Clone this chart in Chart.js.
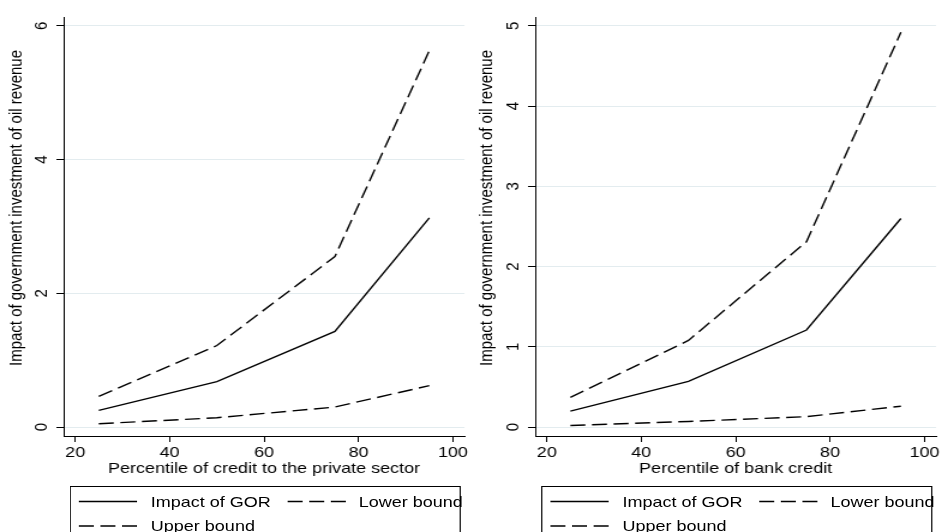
<!DOCTYPE html>
<html>
<head>
<meta charset="utf-8">
<script src="https://cdn.jsdelivr.net/npm/chart.js@4"></script>
<style>
  html, body { margin: 0; padding: 0; background: #fff; overflow: hidden; }
  body { width: 942px; height: 532px; position: relative; }
  /* the reference is a Stata graph stretched sideways, so everything is drawn at 785px and widened */
  #wrap { position: absolute; left: 0; top: 0; width: 785px; height: 532px; transform: scaleX(1.2); transform-origin: 0 0; }
  canvas { position: absolute; top: 0; }
  .legend { position: absolute; top: 486px; width: 326px; height: 70px; border: 1px solid #000; box-sizing: border-box; }
  .legend svg { position: absolute; left: 0; top: 0; }
  .legend span { position: absolute; font: 15px "Liberation Sans", Arial, sans-serif; color: #000; line-height: 18px; white-space: nowrap; }
</style>
</head>
<body>
<div id="wrap">
  <canvas id="chart-private" width="392" height="532" style="left:0"></canvas>
  <canvas id="chart-bank" width="393" height="532" style="left:392px"></canvas>
  <div class="legend" id="legend-private" style="left:58px"></div>
  <div class="legend" id="legend-bank" style="left:451px"></div>
</div>
<script>
document.addEventListener('DOMContentLoaded', () => {
    // --- Datos ---
    const percentiles = [25, 50, 75, 95];
    const xTicks = [20, 40, 60, 80, 100];

    const impactPrivate = [0.25, 0.68, 1.43, 3.13];
    const lowerPrivate = [0.05, 0.14, 0.30, 0.62];
    const upperPrivate = [0.46, 1.22, 2.55, 5.63];
    const yTicksPrivate = [0, 2, 4, 6];

    const impactBank = [0.20, 0.57, 1.21, 2.60];
    const lowerBank = [0.02, 0.07, 0.13, 0.26];
    const upperBank = [0.37, 1.08, 2.31, 4.92];
    const yTicksBank = [0, 1, 2, 3, 4, 5];

    const legendLabels = ['Impact of GOR', 'Lower bound', 'Upper bound'];
    const yTitle = 'Impact of government investment of oil revenue';

    const FONT = '"Liberation Sans", Arial, sans-serif';
    const DASH = [12.5, 5.5];

    const toPoints = (ys) => ys.map((y, i) => ({ x: percentiles[i], y: y }));

    // titulo del eje y, algo por encima del centro como en Stata
    const yTitlePlugin = {
        id: 'yTitle',
        afterDraw(chart) {
            const ctx = chart.ctx;
            ctx.save();
            ctx.font = '15px ' + FONT;
            ctx.fillStyle = '#000';
            ctx.textAlign = 'center';
            ctx.textBaseline = 'middle';
            ctx.translate(14.2, 208);
            ctx.rotate(-Math.PI / 2);
            ctx.fillText(yTitle, 0, 0);
            ctx.restore();
        }
    };

    function makeChart(canvasId, series, yTicks, yMin, yMax, xTitle, yWidth, padRight) {
        const [impact, lower, upper] = series;
        const line = (label, data, dash) => ({
            label: label,
            data: toPoints(data),
            borderColor: '#000',
            borderWidth: 1.4,
            borderDash: dash,
            pointRadius: 0,
            fill: false,
            tension: 0
        });

        return new Chart(document.getElementById(canvasId), {
            type: 'line',
            data: {
                datasets: [
                    line(legendLabels[0], impact, []),
                    line(legendLabels[1], lower, DASH),
                    line(legendLabels[2], upper, DASH)
                ]
            },
            options: {
                responsive: false,
                animation: false,
                layout: { padding: { top: 13, right: padRight, bottom: 0, left: 0 } },
                scales: {
                    x: {
                        type: 'linear',
                        min: 17.55,
                        max: 102.45,
                        afterBuildTicks: (scale) => { scale.ticks = xTicks.map(v => ({ value: v })); },
                        afterFit: (scale) => { scale.height = 96; },
                        grid: { drawOnChartArea: false, tickColor: '#000', tickLength: 6, tickWidth: 1 },
                        border: { color: '#000', width: 1 },
                        ticks: { color: '#000', padding: 2, maxRotation: 0, font: { family: FONT, size: 15 } },
                        title: {
                            display: true,
                            text: xTitle,
                            color: '#000',
                            font: { family: FONT, size: 15 },
                            padding: { top: 0, bottom: 54 }
                        }
                    },
                    y: {
                        min: yMin,
                        max: yMax,
                        afterBuildTicks: (scale) => { scale.ticks = yTicks.map(v => ({ value: v })); },
                        afterFit: (scale) => { scale.width = yWidth; },
                        grid: { color: '#e3ecef', lineWidth: 1, tickColor: '#000', tickLength: 6 },
                        border: { color: '#000', width: 1 },
                        ticks: {
                            color: '#000',
                            minRotation: 90,
                            maxRotation: 90,
                            crossAlign: 'center',
                            padding: 8,
                            font: { family: FONT, size: 15 }
                        }
                    }
                },
                plugins: {
                    legend: { display: false },
                    tooltip: { enabled: false }
                }
            },
            plugins: [yTitlePlugin]
        });
    }

    // --- Leyenda (caja de Stata, dos columnas) ---
    function buildLegend(el) {
        const rows = [
            { label: legendLabels[0], dash: '', sx: 6.7, tx: 66.7, y: 14.5 },
            { label: legendLabels[1], dash: DASH.join(' '), sx: 180.7, tx: 240, y: 14.5 },
            { label: legendLabels[2], dash: DASH.join(' '), sx: 6.7, tx: 66.7, y: 39 }
        ];
        let svg = '<svg width="326" height="70" xmlns="http://www.w3.org/2000/svg">';
        rows.forEach(r => {
            svg += `<line x1="${r.sx}" y1="${r.y}" x2="${r.sx + 48.5}" y2="${r.y}" stroke="#000" stroke-width="1.4"` +
                (r.dash ? ` stroke-dasharray="${r.dash}"` : '') + '/>';
        });
        svg += '</svg>';
        el.innerHTML = svg + rows.map(r =>
            `<span style="left:${r.tx}px;top:${r.y - 9}px">${r.label}</span>`).join('');
    }

    makeChart('chart-private', [impactPrivate, lowerPrivate, upperPrivate], yTicksPrivate,
        -0.133, 6.133, 'Percentile of credit to the private sector', 53, 2);
    makeChart('chart-bank', [impactBank, lowerBank, upperBank], yTicksBank,
        -0.111, 5.111, 'Percentile of bank credit', 54, 3);

    buildLegend(document.getElementById('legend-private'));
    buildLegend(document.getElementById('legend-bank'));
});
</script>
</body>
</html>
